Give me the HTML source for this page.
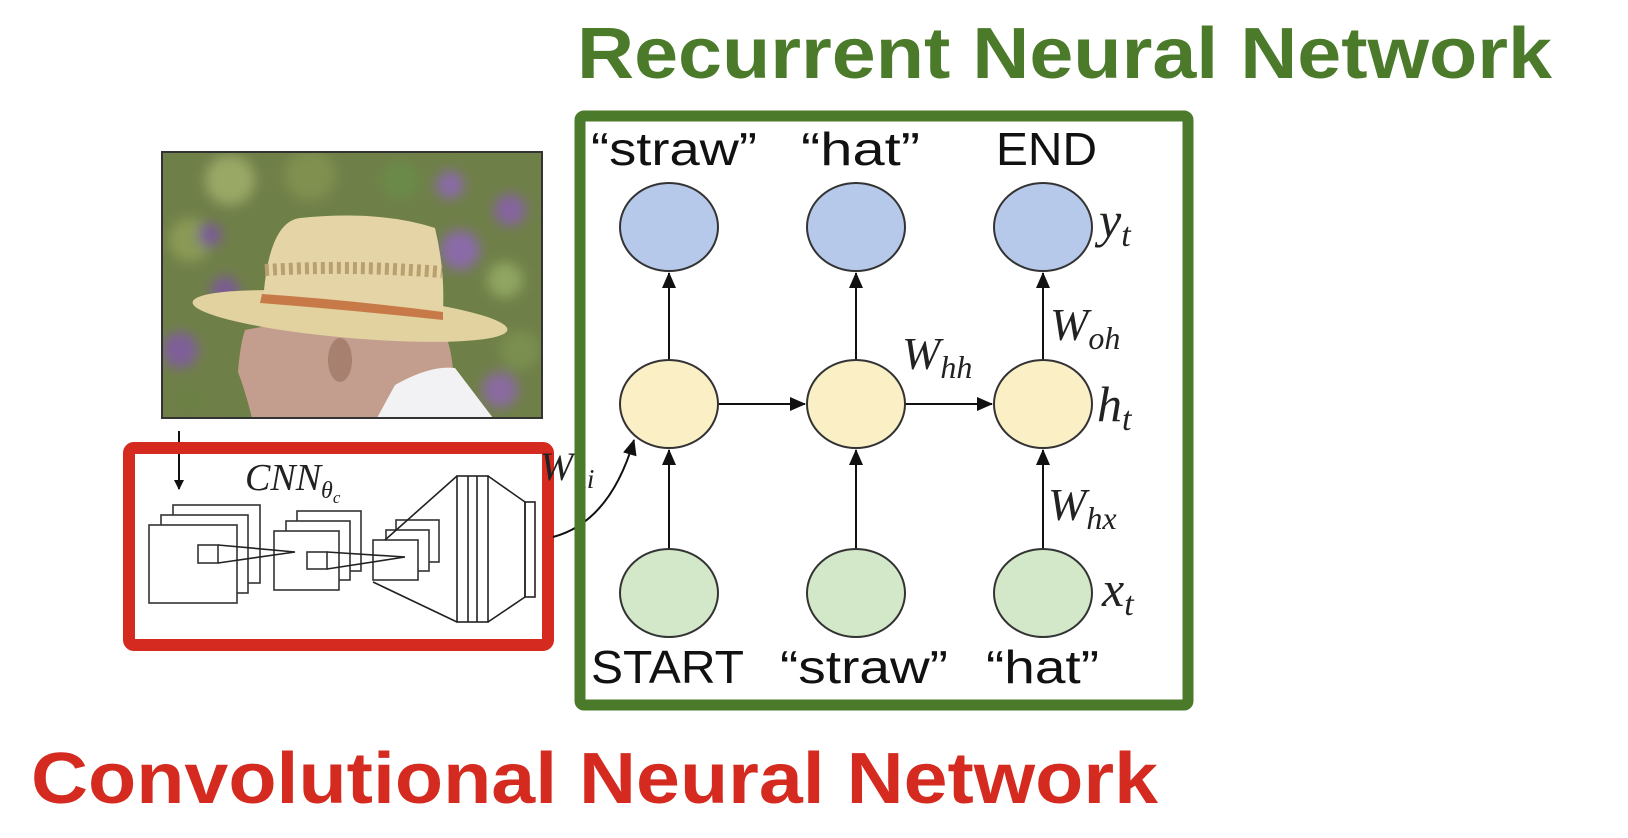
<!DOCTYPE html>
<html><head><meta charset="utf-8"><style>
html,body{margin:0;padding:0;background:#fff;}
svg{display:block}
.w{font-family:"Liberation Sans",sans-serif;font-size:46px;fill:#111}
.m{font-family:"Liberation Serif",serif;font-style:italic;fill:#222}
</style></head><body>
<svg width="1628" height="838" viewBox="0 0 1628 838" xmlns="http://www.w3.org/2000/svg">
<defs>
<marker id="ah" markerWidth="10" markerHeight="10" refX="9" refY="5" orient="auto" markerUnits="userSpaceOnUse"><path d="M0,0 L10,5 L0,10 z" fill="#111"/></marker>
<marker id="ah2" markerWidth="16" markerHeight="14" refX="15" refY="7" orient="auto" markerUnits="userSpaceOnUse"><path d="M0,0 L16,7 L0,14 z" fill="#111"/></marker>
<clipPath id="pc"><rect x="162" y="152" width="380" height="266"/></clipPath>
<filter id="bl"><feGaussianBlur stdDeviation="6"/></filter>
</defs>

<text x="577" y="78" font-family="Liberation Sans,sans-serif" font-weight="bold" font-size="72" fill="#4a7a2a" textLength="975" lengthAdjust="spacingAndGlyphs">Recurrent Neural Network</text>
<text x="31" y="803" font-family="Liberation Sans,sans-serif" font-weight="bold" font-size="72" fill="#d42a1f" textLength="1127" lengthAdjust="spacingAndGlyphs">Convolutional Neural Network</text>

<g clip-path="url(#pc)">
<rect x="162" y="152" width="380" height="266" fill="#6f7f48"/>
<g filter="url(#bl)">
<circle cx="190" cy="240" r="22" fill="#8a9a55"/>
<circle cx="230" cy="180" r="25" fill="#9aa866"/>
<circle cx="310" cy="175" r="26" fill="#7f9050"/>
<circle cx="210" cy="235" r="12" fill="#7a5b94"/>
<circle cx="225" cy="290" r="14" fill="#7a5b94"/>
<circle cx="450" cy="185" r="14" fill="#8a6aa8"/>
<circle cx="460" cy="250" r="20" fill="#8a6aa8"/>
<circle cx="510" cy="210" r="16" fill="#8563a0"/>
<circle cx="505" cy="280" r="18" fill="#8fa560"/>
<circle cx="520" cy="350" r="20" fill="#7a8f50"/>
<circle cx="180" cy="350" r="18" fill="#7f5e9a"/>
<circle cx="190" cy="400" r="14" fill="#6a8045"/>
<circle cx="400" cy="180" r="20" fill="#6b8a48"/>
<circle cx="500" cy="390" r="18" fill="#8a6aa0"/>
</g>
<path d="M245,330 Q300,318 440,322 Q460,360 450,418 L252,418 Q245,390 238,372 Q240,345 245,330 z" fill="#c39e8e"/>
<ellipse cx="340" cy="360" rx="12" ry="22" fill="#a88070"/>
<path d="M377,418 L395,385 Q430,365 455,368 L493,418 z" fill="#f2f2f4"/>
<ellipse cx="350" cy="316" rx="158" ry="22" fill="#e2d2a0" transform="rotate(5 350 316)"/>
<path d="M263,303 Q268,222 300,218 Q380,210 435,228 Q445,270 443,310 Q350,300 263,303 z" fill="#e4d4a6"/>
<path d="M265,270 Q350,265 442,272" stroke="#b9a070" stroke-width="12" fill="none" stroke-dasharray="4 4"/>
<path d="M262,294 Q350,300 443,312 L443,320 Q350,310 260,303 z" fill="#c77a48"/>
</g>
<rect x="162" y="152" width="380" height="266" fill="none" stroke="#333" stroke-width="2"/>

<!-- CNN -->
<path d="M179,431 L179,489" stroke="#111" stroke-width="2" marker-end="url(#ah)"/>
<g fill="#fff" stroke="#333" stroke-width="1.6">
<rect x="173" y="505" width="87" height="78"/>
<rect x="161" y="515" width="87" height="78"/>
<rect x="149" y="525" width="88" height="78"/>
<rect x="297" y="511" width="64" height="60"/>
<rect x="286" y="521" width="64" height="59"/>
<rect x="274" y="531" width="65" height="59"/>
<rect x="396" y="520" width="43" height="42"/>
<rect x="386" y="530" width="43" height="41"/>
<rect x="373" y="540" width="45" height="40"/>
<rect x="198" y="545" width="20" height="18" fill="none"/>
<rect x="307" y="552" width="20" height="17" fill="none"/>
</g>
<g stroke="#222" stroke-width="1.6" fill="none">
<path d="M218,545 L295,552 L218,563"/>
<path d="M327,552 L405,557 L327,569"/>
<path d="M385,540 L457,476 M373,582 L457,622"/>
<rect x="457" y="476" width="31" height="146"/>
<path d="M468,476 V622 M477,476 V622"/>
<path d="M488,476 L525,502 V597 L488,622"/>
<rect x="525" y="502" width="10" height="95"/>
</g>
<text x="245" y="490" class="m" font-size="38">CNN<tspan font-size="24" dy="8">θ</tspan><tspan font-size="17" dy="5">c</tspan></text>
<rect x="129" y="448" width="419" height="197" rx="5" fill="none" stroke="#d42a1f" stroke-width="12"/>

<text x="540" y="480" class="m" font-size="40">W<tspan font-size="27" dy="8">hi</tspan></text>
<path d="M553,537 Q610,522 634,440" stroke="#111" stroke-width="2" fill="none" marker-end="url(#ah2)"/>

<!-- RNN -->
<g stroke="#111" stroke-width="2" fill="none">
<path d="M669,549 V450" marker-end="url(#ah2)"/>
<path d="M856,549 V450" marker-end="url(#ah2)"/>
<path d="M1043,549 V450" marker-end="url(#ah2)"/>
<path d="M669,360 V273" marker-end="url(#ah2)"/>
<path d="M856,360 V273" marker-end="url(#ah2)"/>
<path d="M1043,360 V273" marker-end="url(#ah2)"/>
<path d="M718,404 H805" marker-end="url(#ah2)"/>
<path d="M905,404 H992" marker-end="url(#ah2)"/>
</g>
<g stroke="#333" stroke-width="2">
<ellipse cx="669" cy="227" rx="49" ry="44" fill="#b7c9ea"/>
<ellipse cx="856" cy="227" rx="49" ry="44" fill="#b7c9ea"/>
<ellipse cx="1043" cy="227" rx="49" ry="44" fill="#b7c9ea"/>
<ellipse cx="669" cy="404" rx="49" ry="44" fill="#fbefc6"/>
<ellipse cx="856" cy="404" rx="49" ry="44" fill="#fbefc6"/>
<ellipse cx="1043" cy="404" rx="49" ry="44" fill="#fbefc6"/>
<ellipse cx="669" cy="593" rx="49" ry="44" fill="#d3e8c9"/>
<ellipse cx="856" cy="593" rx="49" ry="44" fill="#d3e8c9"/>
<ellipse cx="1043" cy="593" rx="49" ry="44" fill="#d3e8c9"/>
</g>
<text x="591" y="165" class="w" textLength="166" lengthAdjust="spacingAndGlyphs">“straw”</text>
<text x="801" y="165" class="w" textLength="119" lengthAdjust="spacingAndGlyphs">“hat”</text>
<text x="996" y="165" class="w" textLength="101" lengthAdjust="spacingAndGlyphs">END</text>
<text x="591" y="683" class="w" textLength="153" lengthAdjust="spacingAndGlyphs">START</text>
<text x="780" y="683" class="w" textLength="168" lengthAdjust="spacingAndGlyphs">“straw”</text>
<text x="986" y="683" class="w" textLength="113" lengthAdjust="spacingAndGlyphs">“hat”</text>
<text x="1099" y="237" class="m" font-size="50">y<tspan font-size="34" dy="9">t</tspan></text>
<text x="1097" y="421" class="m" font-size="50">h<tspan font-size="34" dy="9">t</tspan></text>
<text x="1102" y="606" class="m" font-size="50">x<tspan font-size="34" dy="9">t</tspan></text>
<text x="1050" y="340" class="m" font-size="46">W<tspan font-size="32" dy="9">oh</tspan></text>
<text x="902" y="369" class="m" font-size="46">W<tspan font-size="32" dy="9">hh</tspan></text>
<text x="1048" y="520" class="m" font-size="46">W<tspan font-size="32" dy="9">hx</tspan></text>

<rect x="580" y="116" width="608" height="589" rx="4" fill="none" stroke="#4a7a2a" stroke-width="11"/>
</svg>
</body></html>
